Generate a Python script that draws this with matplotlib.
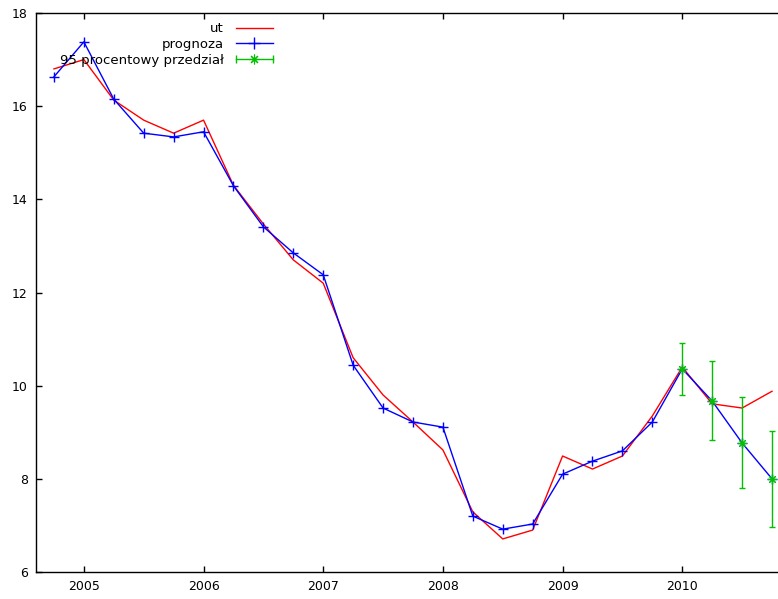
import numpy as np
import matplotlib
matplotlib.use("Agg")
import matplotlib.pyplot as plt
from matplotlib.lines import Line2D

# quarterly time axis, 2004 Q4 .. 2010 Q4
t = [2004.75, 2005.0, 2005.25, 2005.5, 2005.75, 2006.0, 2006.25, 2006.5, 2006.75,
     2007.0, 2007.25, 2007.5, 2007.75, 2008.0, 2008.25, 2008.5, 2008.75,
     2009.0, 2009.25, 2009.5, 2009.75, 2010.0, 2010.25, 2010.5, 2010.75]

ut = [16.8, 17.0, 16.13, 15.7, 15.42, 15.7, 14.3, 13.47, 12.7,
      12.2, 10.6, 9.8, 9.22, 8.62, 7.29, 6.71, 6.9,
      8.49, 8.21, 8.49, 9.35, 10.4, 9.61, 9.52, 9.88]

prognoza = [16.63, 17.38, 16.15, 15.42, 15.34, 15.45, 14.29, 13.41, 12.85,
            12.38, 10.44, 9.52, 9.22, 9.11, 7.2, 6.92, 7.03,
            8.10, 8.38, 8.6, 9.22, 10.36, 9.67, 8.77, 8.0]

# 95% interval for the forecast part
t_pi = [2010.0, 2010.25, 2010.5, 2010.75]
pi_mid = [10.36, 9.67, 8.77, 8.0]
pi_low = [9.8, 8.83, 7.8, 6.97]
pi_high = [10.92, 10.53, 9.76, 9.03]

labels = ["ut", "prognoza", "95 procentowy przedział"]
GREEN = "#00c000"

plt.rcParams['font.family'] = ['DejaVu Sans']
plt.rcParams['font.size'] = 9

fig = plt.figure(figsize=(7.78, 5.99), dpi=100)
ax = fig.add_axes([36 / 778, 1 - 572 / 599, 1 - 36 / 778, (572 - 13) / 599])

ax.plot(t, ut, color="red", lw=1)
ax.plot(t, prognoza, color="blue", lw=1, marker="+", ms=7.5, mew=1)

lo = np.array(pi_mid) - np.array(pi_low)
hi = np.array(pi_high) - np.array(pi_mid)
ax.errorbar(t_pi, pi_mid, yerr=[lo, hi], fmt="none", ecolor=GREEN,
            elinewidth=1, capsize=2, capthick=1)
ax.plot(t_pi, pi_mid, ls="none", marker=(8, 2, 0), ms=6.5, mew=0.8, color=GREEN)

ax.set_xlim(2004.6, 2010.8)
ax.set_ylim(6, 18)
ax.set_xticks([2005, 2006, 2007, 2008, 2009, 2010])
ax.set_xticklabels(["2005", "2006", "2007", "2008", "2009", "2010"])
ax.set_yticks([6, 8, 10, 12, 14, 16, 18])
ax.tick_params(direction="in", length=4, width=1, top=True, right=False, pad=6)
ax.spines["right"].set_visible(False)
for s in ("left", "bottom", "top"):
    ax.spines[s].set_linewidth(1)


class ErrHandler:
    def legend_artist(self, legend, orig_handle, fontsize, handlebox):
        x0, y0 = handlebox.xdescent, handlebox.ydescent
        w, h = handlebox.width, handlebox.height
        ym = y0 + h / 2
        line = Line2D([x0, x0 + w], [ym, ym], color=GREEN, lw=1)
        caps = Line2D([x0, x0 + w], [ym, ym], ls="none", marker="|", ms=6, mew=1, color=GREEN)
        star = Line2D([x0 + w / 2], [ym], ls="none", marker=(8, 2, 0), ms=7, mew=0.8, color=GREEN)
        for a in (line, caps, star):
            a.set_transform(handlebox.get_transform())
            handlebox.add_artist(a)
        return line


class ErrKey:
    pass


h1 = Line2D([], [], color="red", lw=1)
h2 = Line2D([], [], color="blue", lw=1, marker="+", ms=8, mew=1)
h3 = ErrKey()
leg = ax.legend([h1, h2, h3], labels, handler_map={ErrKey: ErrHandler()},
                markerfirst=False, frameon=False, loc="upper right",
                bbox_to_anchor=(0.3315, 1.0), fontsize=9.5, handlelength=2.8,
                handletextpad=0.9, labelspacing=0.2, borderaxespad=0.3)

fig.savefig("out.png", dpi=100)
